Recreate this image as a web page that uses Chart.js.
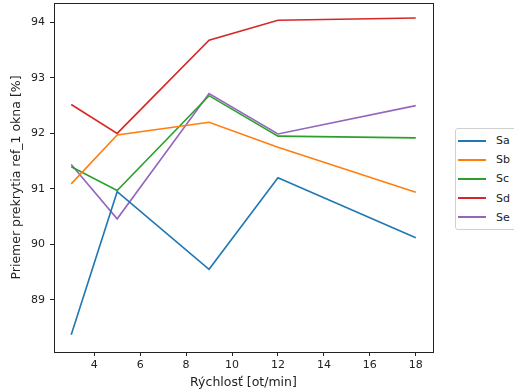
<!DOCTYPE html>
<html lang="sk">
<head>
<meta charset="UTF-8">
<title>Priemer prekrytia</title>
<script src="https://cdn.jsdelivr.net/npm/chart.js"></script>
<style>
  html, body { margin: 0; padding: 0; background: #fff; overflow: hidden; }
  #wrap { position: relative; width: 514px; height: 392px; }
  #legend {
    position: absolute; left: 455px; top: 128px; width: 80px;
    border: 1px solid #d0d0d0; border-radius: 3px; background: #fff;
    padding: 2px 0 2px 0;
    font-family: 'DejaVu Sans', sans-serif; font-size: 11px; color: #222;
  }
  .item { display: flex; align-items: center; height: 19.2px; }
  .sw { width: 28px; height: 2px; margin: 0 10px 0 2px; }
</style>
</head>
<body>
<div id="wrap">
  <canvas id="chart" width="514" height="392"></canvas>
  <div id="legend"></div>
</div>
<script>
const speeds = [3, 5, 9, 12, 18];
const names = ['Sa', 'Sb', 'Sc', 'Sd', 'Se'];
const Sa = [88.37, 90.95, 89.55, 91.2, 90.12];
const Sb = [91.09, 91.97, 92.2, 91.75, 90.94];
const Sc = [91.4, 90.97, 92.68, 91.95, 91.92];
const Sd = [92.52, 92.0, 93.68, 94.04, 94.08];
const Se = [91.44, 90.46, 92.72, 91.99, 92.5];
const xTicks = [4, 6, 8, 10, 12, 14, 16, 18];
const yTicks = [89, 90, 91, 92, 93, 94];
const colors = ['#1f77b4', '#ff7f0e', '#2ca02c', '#d62728', '#9467bd'];

const series = [Sa, Sb, Sc, Sd, Se];
const font = { family: "'DejaVu Sans', sans-serif", size: 11 };
const titleFont = { family: "'DejaVu Sans', sans-serif", size: 12.5 };

// matplotlib-style frame round the plot area
const frame = {
  id: 'frame',
  afterDraw(chart) {
    const a = chart.chartArea, c = chart.ctx;
    c.save();
    c.strokeStyle = '#222';
    c.lineWidth = 1;
    c.strokeRect(Math.round(a.left) + 0.5, Math.round(a.top) + 0.5,
      Math.round(a.right - a.left), Math.round(a.bottom - a.top));
    c.restore();
  }
};

new Chart(document.getElementById('chart'), {
  type: 'line',
  data: {
    datasets: series.map((s, i) => ({
      label: names[i],
      data: s.map((v, j) => ({ x: speeds[j], y: v })),
      borderColor: colors[i],
      backgroundColor: colors[i],
      borderWidth: 1.6,
      pointRadius: 0,
      tension: 0
    }))
  },
  options: {
    responsive: false,
    animation: false,
    layout: { padding: { top: 3, right: 81, left: 0, bottom: 0 } },
    plugins: { legend: { display: false }, tooltip: { enabled: false } },
    scales: {
      x: {
        type: 'linear', min: 2.25, max: 18.75,
        afterBuildTicks: s => { s.ticks = xTicks.map(v => ({ value: v })); },
        afterFit: s => { s.height = 40; s.paddingLeft = 0; s.paddingRight = 0; },
        grid: { drawOnChartArea: false, drawTicks: true, tickLength: 4, color: '#222' },
        border: { color: '#222' },
        ticks: { color: '#222', font, padding: 3, maxRotation: 0 },
        title: { display: true, text: 'Rýchlosť [ot/min]', color: '#222', font: titleFont, padding: { top: 0, bottom: 1.5 } }
      },
      y: {
        min: 88.06, max: 94.35,
        afterBuildTicks: s => { s.ticks = yTicks.map(v => ({ value: v })); },
        afterFit: s => { s.width = 54; s.paddingTop = 0; s.paddingBottom = 0; },
        grid: { drawOnChartArea: false, drawTicks: true, tickLength: 4, color: '#222' },
        border: { color: '#222' },
        ticks: { color: '#222', font, padding: 5 },
        title: { display: true, text: 'Priemer prekrytia ref_1 okna [%]', color: '#222', font: titleFont, padding: { top: 9, bottom: 0 } }
      }
    }
  },
  plugins: [frame]
});

document.getElementById('legend').innerHTML = names.map((n, i) =>
  `<div class="item"><span class="sw" style="background:${colors[i]}"></span>${n}</div>`).join('');
</script>
</body>
</html>
